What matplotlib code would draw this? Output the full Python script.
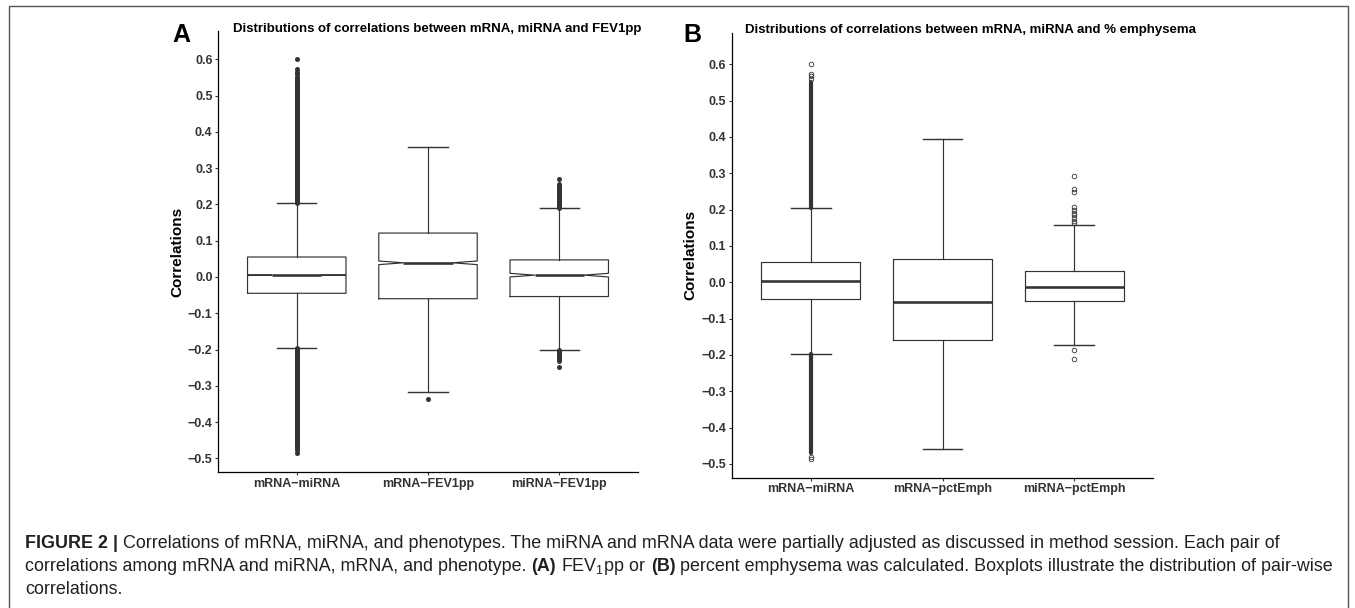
import matplotlib.pyplot as plt
from matplotlib.patches import Rectangle

plt.rcParams['font.family'] = ['Liberation Sans', 'DejaVu Sans']
plt.rcParams['mathtext.fontset'] = 'custom'
plt.rcParams['mathtext.rm'] = 'Liberation Sans'
plt.rcParams['mathtext.bf'] = 'Liberation Sans:bold'
plt.rcParams['mathtext.it'] = 'Liberation Sans:italic'

W, H = 1355, 608
DARK = '#333333'

# ---- panel A : mRNA / miRNA / FEV1pp (notched) ----
labels_a = ['mRNA\u2212miRNA', 'mRNA\u2212FEV1pp', 'miRNA\u2212FEV1pp']
q1_a = [-0.045, -0.060, -0.054]
med_a = [0.005, 0.039, 0.005]
q3_a = [0.055, 0.121, 0.047]
lo_a = [-0.196, -0.318, -0.201]
hi_a = [0.205, 0.359, 0.190]
notch_lo_a = [0.004, 0.034, 0.000]
notch_hi_a = [0.006, 0.044, 0.010]
fliers_a = [[0.560, 0.566, 0.572, 0.600, -0.478, -0.486],
            [-0.336],
            [0.271, -0.247]]
# stretches where the outliers overlap into a solid column
bands_a = [[(0.205, 0.552), (-0.472, -0.196)], [], [(0.190, 0.255), (-0.231, -0.201)]]

# ---- panel B : mRNA / miRNA / % emphysema ----
labels_b = ['mRNA\u2212miRNA', 'mRNA\u2212pctEmph', 'miRNA\u2212pctEmph']
q1_b = [-0.045, -0.158, -0.051]
med_b = [0.0045, -0.053, -0.013]
q3_b = [0.055, 0.065, 0.032]
lo_b = [-0.196, -0.460, -0.1725]
hi_b = [0.205, 0.394, 0.158]
fliers_b = [[0.560, 0.567, 0.573, 0.600, -0.480, -0.487],
            [],
            [0.164, 0.170, 0.177, 0.184, 0.192, 0.199, 0.206, 0.248, 0.258, 0.2925,
             -0.185, -0.211]]
bands_b = [[(0.205, 0.552), (-0.471, -0.196)], [], []]

yticks = [-0.5, -0.4, -0.3, -0.2, -0.1, 0.0, 0.1, 0.2, 0.3, 0.4, 0.5, 0.6]

caption1 = [('FIGURE 2 |', 'bold'),
            ('Correlations of mRNA, miRNA, and phenotypes. The miRNA and mRNA data were '
             'partially adjusted as discussed in method session. Each pair of', 'normal')]
caption2 = [('correlations among mRNA and miRNA, mRNA, and phenotype.', 'normal'),
            ('(A)', 'bold'), ('FEV$_1$pp or', 'normal'), ('(B)', 'bold'),
            ('percent emphysema was calculated. Boxplots illustrate the distribution '
             'of pair-wise', 'normal')]
caption3 = [('correlations.', 'normal')]


def box_stats(q1, med, q3, lo, hi, fliers, clo=None, chi=None):
    out = []
    for i in range(len(med)):
        d = dict(q1=q1[i], med=med[i], q3=q3[i], whislo=lo[i], whishi=hi[i], fliers=fliers[i])
        if clo is not None:
            d['cilo'] = clo[i]
            d['cihi'] = chi[i]
        out.append(d)
    return out


def draw_panel(ax, stats, labels, bands, notch, hollow, ylim):
    lw = 0.85
    if hollow:
        fp = dict(marker='o', markerfacecolor='none', markeredgecolor=DARK,
                  markersize=3.3, markeredgewidth=0.6, linestyle='none')
        band_w = 3.0
    else:
        fp = dict(marker='o', markerfacecolor=DARK, markeredgecolor=DARK,
                  markersize=3.6, markeredgewidth=0, linestyle='none')
        band_w = 3.6
    ax.bxp(stats, positions=[1, 2, 3], widths=0.75, shownotches=notch,
           capwidths=0.3, showfliers=True,
           boxprops=dict(color=DARK, linewidth=lw),
           whiskerprops=dict(color=DARK, linewidth=lw),
           capprops=dict(color=DARK, linewidth=lw * 1.2),
           medianprops=dict(color=DARK, linewidth=lw * 2.2, solid_capstyle='butt'),
           flierprops=fp)
    for i, bl in enumerate(bands):
        for a, b in bl:
            ax.vlines(i + 1, a, b, color=DARK, linewidth=band_w, capstyle='round', zorder=1)
    ax.set_xlim(0.4, 3.6)
    ax.set_ylim(*ylim)
    ax.set_yticks(yticks)
    ax.set_yticklabels([f'{v:.1f}'.replace('-', '\u2212') for v in yticks])
    ax.set_xticks([1, 2, 3])
    ax.set_xticklabels(labels)
    for s in ['top', 'right']:
        ax.spines[s].set_visible(False)
    for s in ['left', 'bottom']:
        ax.spines[s].set_color('black')
        ax.spines[s].set_linewidth(0.9)
    ax.tick_params(length=2.4, width=0.8, color=DARK, labelcolor=DARK,
                   labelsize=9, pad=1.5)
    for t in ax.get_xticklabels() + ax.get_yticklabels():
        t.set_fontweight('bold')


fig = plt.figure(figsize=(W / 100, H / 100), dpi=100)
fig.patch.set_facecolor('white')


def axes_px(left, top, right, bottom):
    return fig.add_axes([left / W, 1 - bottom / H, (right - left) / W, (bottom - top) / H])


ax_a = axes_px(218, 31, 638, 472.3)
ax_b = axes_px(731.7, 33, 1153.3, 477.7)

draw_panel(ax_a, box_stats(q1_a, med_a, q3_a, lo_a, hi_a, fliers_a, notch_lo_a, notch_hi_a),
           labels_a, bands_a, True, False, (-0.5385, 0.678))
draw_panel(ax_b, box_stats(q1_b, med_b, q3_b, lo_b, hi_b, fliers_b),
           labels_b, bands_b, False, True, (-0.5377, 0.686))

ax_a.text(-0.0964, 0.5, 'Correlations', rotation=90, ha='center', va='center',
          transform=ax_a.transAxes, fontsize=11, fontweight='bold')
ax_b.text(-0.099, 0.5, 'Correlations', rotation=90, ha='center', va='center',
          transform=ax_b.transAxes, fontsize=11, fontweight='bold')

fig.text(233 / W, 1 - 32 / H, 'Distributions of correlations between mRNA, miRNA and FEV1pp',
         fontsize=9.5, fontweight='bold', va='baseline')
fig.text(745 / W, 1 - 33 / H, 'Distributions of correlations between mRNA, miRNA and % emphysema',
         fontsize=9.5, fontweight='bold', va='baseline')
fig.text(172 / W, 1 - 42 / H, 'A', fontsize=18, fontweight='bold', va='baseline')
fig.text(683 / W, 1 - 42 / H, 'B', fontsize=18, fontweight='bold', va='baseline')

# caption, laid out piece by piece
renderer = fig.canvas.get_renderer()
cap_size = 12.9
space_px = cap_size * 100 / 72 * 0.278


def caption_line(pieces, x, y):
    for s, w in pieces:
        t = fig.text(x / W, 1 - y / H, s, fontsize=cap_size, fontweight=w,
                     color='#231F20', va='baseline')
        bb = t.get_window_extent(renderer)
        x = bb.x1 + space_px


caption_line(caption1, 25, 548)
caption_line(caption2, 25, 571)
caption_line(caption3, 25, 594)

fig.patches.append(Rectangle((9 / W, -0.05), (1348 - 9) / W, 1.05 - 6 / H,
                             transform=fig.transFigure, fill=False,
                             edgecolor='#555555', linewidth=1.0))

fig.savefig('out.png', dpi=100)
